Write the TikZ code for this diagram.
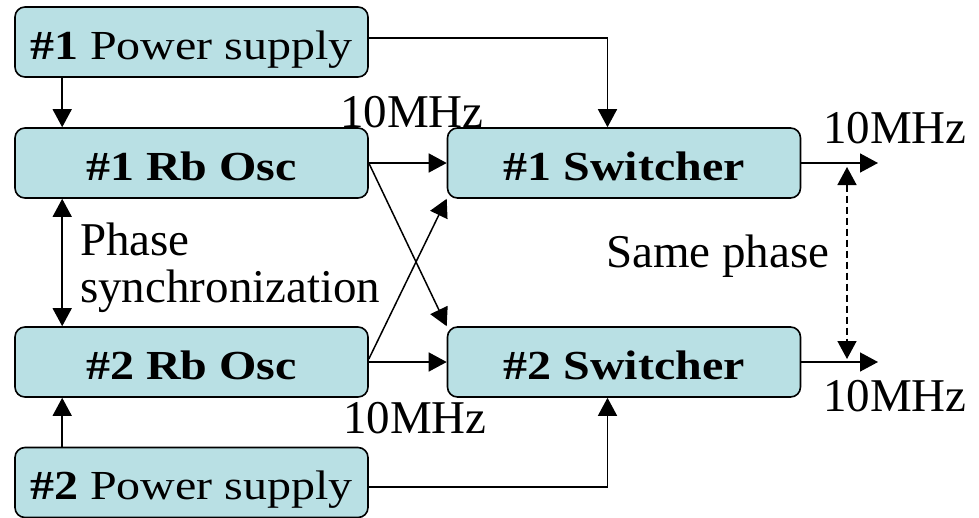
\documentclass[tikz,border=0pt]{standalone}
\usepackage{fontspec}
\setmainfont{Liberation Serif}
\usetikzlibrary{arrows.meta}
\definecolor{boxfill}{RGB}{185,224,228}

\tikzset{
  block/.style={draw=black, line width=1.6pt, fill=boxfill, rounded corners=10pt,
    minimum width=353pt, minimum height=70pt, inner sep=0pt,
    text height=34pt, text depth=0pt,
    font=\fontsize{48}{50}\selectfont},
  label/.style={inner sep=0pt, anchor=base west, font=\fontsize{47}{50}\selectfont},
  link/.style={line width=1.5pt, -{Triangle[length=18pt,width=19pt]}},
  twoway/.style={line width=1.5pt, {Triangle[length=18pt,width=19pt]}-{Triangle[length=18pt,width=19pt]}},
}
\newcommand{\boxtext}[1]{\scalebox{1}[0.86]{#1}}

\begin{document}
\begin{tikzpicture}[x=1pt, y=-1pt]
  \useasboundingbox (0,0) rectangle (979,517);

  % blocks
  \node[block] (ps1) at (191.5,42)  {\boxtext{\textbf{\#1} Power supply}};
  \node[block] (rb1) at (191.5,163) {\boxtext{\textbf{\#1 Rb Osc}}};
  \node[block] (rb2) at (191.5,362) {\boxtext{\textbf{\#2 Rb Osc}}};
  \node[block] (ps2) at (191.5,482.5) {\boxtext{\textbf{\#2} Power supply}};
  \node[block] (sw1) at (624,163)   {\boxtext{\textbf{\#1 Switcher}}};
  \node[block] (sw2) at (624,362)   {\boxtext{\textbf{\#2 Switcher}}};

  % free ends of the outputs and of the phase marker
  \coordinate (out1) at (878,163);
  \coordinate (out2) at (878,362);
  \coordinate (sp1) at (847,167);
  \coordinate (sp2) at (847,359);

  % power feeds
  \draw[link] ([xshift=48pt]ps1.south west) -- ([xshift=48pt]rb1.north west);
  \draw[link] ([xshift=48pt]ps2.north west) -- ([xshift=48pt]rb2.south west);
  \draw[link] ([yshift=4pt]ps1.east) -| ([xshift=-16.5pt]sw1.north);
  \draw[link] ([yshift=-4.5pt]ps2.east) -| ([xshift=-16.5pt]sw2.south);

  % phase link between the oscillators
  \draw[twoway] ([xshift=48pt]rb1.south west) -- ([xshift=48pt]rb2.north west);

  % oscillator outputs to the switchers
  \draw[link] (rb1.east) -- (sw1.west);
  \draw[link] (rb2.east) -- (sw2.west);
  \draw[link] (rb1.east) -- (sw2.north west);
  \draw[link] ([yshift=3pt]rb2.east) -- (sw1.south west);

  % switcher outputs
  \draw[link] (sw1.east) -- (out1);
  \draw[link] (sw2.east) -- (out2);
  \draw[twoway, dash pattern=on 7pt off 4pt] (sp1) -- (sp2);

  % labels
  \node[label] (f1) at (340,127) {10MHz};
  \node[label] (f2) at (343,433) {10MHz};
  \node[label] (f3) at (823,143) {10MHz};
  \node[label] (f4) at (823,411) {10MHz};
  \node[label] (ph1) at (80,255) {Phase};
  \node[label] (ph2) at (80,302) {synchronization};
  \node[label] (same) at (606,267) {Same phase};
\end{tikzpicture}
\end{document}
